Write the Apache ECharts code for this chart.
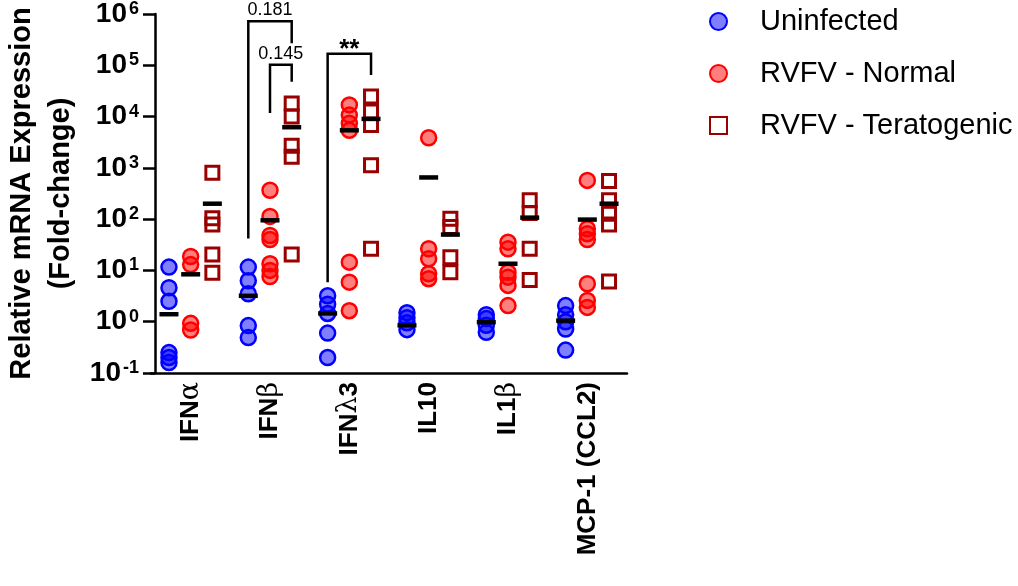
<!DOCTYPE html>
<html>
<head>
<meta charset="utf-8">
<script src="https://cdn.jsdelivr.net/npm/echarts@6/dist/echarts.min.js"></script>
<style>
  html, body {margin: 0; padding: 0; background: #fff;}
  #chart {width: 1018px; height: 586px;}
</style>
</head>
<body>
<div id="chart"></div>
<script>
const categories = ['IFNα', 'IFNβ', 'IFNλ3', 'IL10', 'IL1β', 'MCP-1 (CCL2)'];

// fold-change per animal, one inner list per gene
const uninfected = [
  [11.6, 4.6, 2.5, 0.25, 0.2, 0.16],
  [11.6, 6.3, 3.5, 0.84, 0.49],
  [3.2, 2.2, 1.45, 0.6, 0.2],
  [1.5, 1.2, 0.95, 0.7],
  [1.37, 1.15, 0.85, 0.62],
  [2.06, 1.37, 1.0, 0.72, 0.28]
];
const normal = [
  [18.7, 13.0, 0.93, 0.69],
  [366, 113, 48, 40, 13.5, 10, 7.6],
  [16900, 10700, 7400, 5400, 14.5, 5.9, 1.64],
  [3860, 26.5, 16.9, 8.6, 6.9],
  [35.6, 26.5, 9.2, 7.4, 5.1, 2.06],
  [570, 65, 52, 40, 5.5, 2.6, 1.9]
];
const teratogenic = [
  [800, 104, 79, 20.5, 9.0],
  [18000, 10000, 2700, 1640, 20.5],
  [24500, 12500, 6850, 1130, 26.5],
  [102, 70, 18, 9.2],
  [233, 132, 26.4, 6.5],
  [557, 233, 128, 79, 6.1]
];

// group bars
const uninfectedMid = [1.4, 3.2, 1.45, 0.85, 0.98, 1.05];
const normalMid = [8.4, 95, 5400, 650, 13.5, 98];
const teratogenicMid = [200, 6200, 9000, 50, 107, 200];

// significance brackets
const bracketCats = [1, 1, 2];
const bracketFrom = [0, 1, 0];
const bracketTo = [2, 2, 2];
const bracketTop = [7.2e5, 1.02e5, 1.68e5];
const bracketLeftEnd = [42, 11700, 5.9];
const bracketRightEnd = [2.7e5, 4.8e4, 6.5e4];
const bracketLabels = ['0.181', '0.145', '**'];

const groupOffset = [-21.7, 0, 21.7];
const labelDy = [-11, -11, -4];
const FONT = '"Liberation Sans", Arial, sans-serif';

const flat = rows => rows.flatMap((vals, i) => vals.map(v => [i, v]));
const mids = arr => arr.map((v, i) => [i, v]);

const chart = echarts.init(document.getElementById('chart'));

const pointSeries = (name, rows, g, symbol, size, style) => ({
  name: name,
  type: 'scatter',
  data: flat(rows),
  symbol: symbol,
  symbolSize: size,
  symbolOffset: [groupOffset[g], 0],
  itemStyle: Object.assign({opacity: 1}, style),
  z: 2,
  silent: true
});

const midSeries = (name, arr, g) => ({
  name: name,
  type: 'scatter',
  data: mids(arr),
  symbol: 'rect',
  symbolSize: [19, 4.5],
  symbolOffset: [groupOffset[g], 0],
  itemStyle: {color: '#000', opacity: 1},
  z: 4,
  silent: true
});

chart.setOption({
  animation: false,
  textStyle: {fontFamily: FONT},
  grid: {left: 151, right: 391, top: 14, bottom: 213, containLabel: false, outerBoundsMode: 'none'},
  legend: {
    orient: 'vertical',
    left: 704,
    top: 2,
    itemWidth: 17,
    itemHeight: 17,
    itemGap: 23,
    textStyle: {fontSize: 29, color: '#000', fontFamily: FONT, padding: [0, 0, 0, 28]},
    data: ['Uninfected', 'RVFV - Normal', 'RVFV - Teratogenic']
  },
  xAxis: {
    type: 'category',
    data: categories,
    boundaryGap: true,
    axisLine: {onZero: false, lineStyle: {color: '#000', width: 2.5}},
    axisTick: {alignWithLabel: true, length: 13, lineStyle: {color: '#000', width: 2.5}},
    axisLabel: {
      rotate: 90,
      margin: 9,
      interval: 0,
      color: '#000',
      formatter: name => '{b|' + name.replace(/([αβλ])/g, '}{g|$1}{b|') + '}',
      rich: {
        b: {fontSize: 26, fontWeight: 'bold', color: '#000', fontFamily: FONT},
        g: {fontSize: 27, fontWeight: 'normal', color: '#000', fontFamily: '"DejaVu Serif", serif'}
      }
    },
    splitLine: {show: false}
  },
  yAxis: {
    type: 'log',
    logBase: 10,
    min: 0.1,
    max: 1e6,
    offset: -4,
    name: 'Relative mRNA Expression\n(Fold-change)',
    nameLocation: 'middle',
    nameRotate: 90,
    nameGap: 75,
    nameTextStyle: {fontSize: 29, fontWeight: 'bold', lineHeight: 39, color: '#000', fontFamily: FONT},
    axisLine: {show: true, lineStyle: {color: '#000', width: 2.5}},
    axisTick: {show: true, length: 12, lineStyle: {color: '#000', width: 2.5}},
    minorTick: {show: false},
    splitLine: {show: false},
    axisLabel: {
      margin: 16,
      formatter: v => '{b|10}{s|' + Math.round(Math.log10(v)) + '}',
      rich: {
        b: {fontSize: 28, fontWeight: 'bold', color: '#000', fontFamily: FONT},
        s: {fontSize: 18, fontWeight: 'bold', color: '#000', verticalAlign: 'top', padding: [0, 0, 0, 2], fontFamily: FONT}
      }
    }
  },
  series: [
    pointSeries('Uninfected', uninfected, 0, 'circle', 15,
      {color: 'rgba(0,0,255,0.5)', borderColor: '#0000ff', borderWidth: 2.5}),
    pointSeries('RVFV - Normal', normal, 1, 'circle', 15,
      {color: 'rgba(255,0,0,0.5)', borderColor: '#ff0000', borderWidth: 2.5}),
    pointSeries('RVFV - Teratogenic', teratogenic, 2, 'rect', 13,
      {color: 'rgba(255,255,255,0)', borderColor: '#990000', borderWidth: 3}),
    midSeries('mid-u', uninfectedMid, 0),
    midSeries('mid-n', normalMid, 1),
    midSeries('mid-t', teratogenicMid, 2),
    {
      type: 'custom',
      silent: true,
      z: 5,
      data: bracketCats.map((c, i) => [c, bracketTop[i], bracketLeftEnd[i], bracketRightEnd[i]]),
      encode: {x: 0, y: 1},
      renderItem: (params, api) => {
        const i = params.dataIndex;
        const c = api.value(0);
        const top = api.coord([c, api.value(1)]);
        const xl = top[0] + groupOffset[bracketFrom[i]];
        const xr = top[0] + groupOffset[bracketTo[i]];
        const yl = api.coord([c, api.value(2)])[1];
        const yr = api.coord([c, api.value(3)])[1];
        const isStar = bracketLabels[i] === '**';
        return {
          type: 'group',
          children: [
            {
              type: 'polyline',
              shape: {points: [[xl, yl], [xl, top[1]], [xr, top[1]], [xr, yr]]},
              style: {stroke: '#000', lineWidth: 2.5, fill: null}
            },
            {
              type: 'text',
              x: (xl + xr) / 2,
              y: top[1] + labelDy[i],
              style: {
                text: bracketLabels[i],
                fill: '#000',
                font: (isStar ? 'bold 26px ' : '18px ') + FONT,
                align: 'center',
                verticalAlign: 'middle'
              }
            }
          ]
        };
      }
    }
  ]
});
</script>
</body>
</html>
